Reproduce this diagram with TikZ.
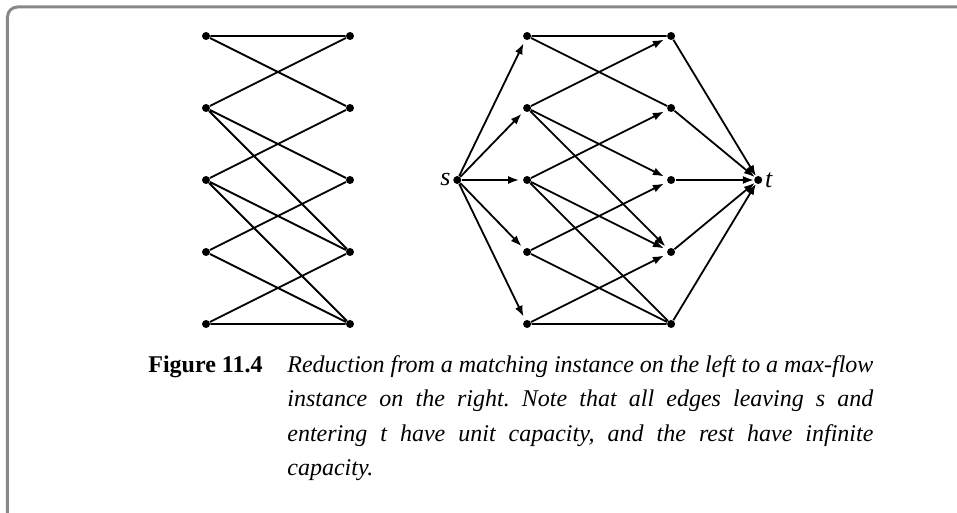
\documentclass[tikz,border=0pt]{standalone}
\usepackage{fontspec}
\setmainfont{Liberation Serif}
\usetikzlibrary{arrows.meta}
\definecolor{frameGray}{RGB}{136,136,136}
\frenchspacing

\begin{document}
\begin{tikzpicture}[>={Latex[length=5.5pt,width=4pt]},x=36pt,y=36pt,
  dot/.style={circle,fill,inner sep=0pt,minimum size=4pt},
  edge/.style={line width=0.9pt},
  arc/.style={->,line width=0.9pt,shorten >=1.8pt}]
\useasboundingbox (-2.861,-4.625) rectangle (10.431,2.5);
\draw[frameGray,line width=1.5pt,rounded corners=5pt] (-2.757,-4.7) -- (-2.757,2.403) -- (10.6,2.403);
% matching instance
\node[dot] (a1) at (0,2) {};
\node[dot] (a2) at (0,1) {};
\node[dot] (a3) at (0,0) {};
\node[dot] (a4) at (0,-1) {};
\node[dot] (a5) at (0,-2) {};
\node[dot] (b1) at (2,2) {};
\node[dot] (b2) at (2,1) {};
\node[dot] (b3) at (2,0) {};
\node[dot] (b4) at (2,-1) {};
\node[dot] (b5) at (2,-2) {};
\draw[edge] (a1) -- (b1) (a1) -- (b2) (a2) -- (b1) (a2) -- (b3) (a2) -- (b4) (a3) -- (b2);
\draw[edge] (a3) -- (b4) (a3) -- (b5) (a4) -- (b3) (a4) -- (b5) (a5) -- (b4) (a5) -- (b5);
% flow network
\node[dot] (s) at (3.49,0) {};
\node[left,inner sep=1pt,font=\fontsize{13}{15}\selectfont] (slabel) at (s.west) {\textit{s}};
\node[dot] (p1) at (4.46,2) {};
\node[dot] (p2) at (4.46,1) {};
\node[dot] (p3) at (4.46,0) {};
\node[dot] (p4) at (4.46,-1) {};
\node[dot] (p5) at (4.46,-2) {};
\node[dot] (q1) at (6.46,2) {};
\node[dot] (q2) at (6.46,1) {};
\node[dot] (q3) at (6.46,0) {};
\node[dot] (q4) at (6.46,-1) {};
\node[dot] (q5) at (6.46,-2) {};
\node[dot] (t) at (7.67,0) {};
\node[right,inner sep=1pt,font=\fontsize{13}{15}\selectfont] (tlabel) at (t.east) {\textit{t}};
\draw[arc] (s) -- (p1);
\draw[arc] (s) -- (p2);
\draw[arc] (s) -- (p3);
\draw[arc] (s) -- (p4);
\draw[arc] (s) -- (p5);
\draw[edge] (p1) -- (q1) (p1) -- (q2) (p3) -- (q5) (p4) -- (q5) (p5) -- (q5);
\draw[arc] (p2) -- (q1);
\draw[arc] (p2) -- (q3);
\draw[arc] (p2) -- (q4);
\draw[arc] (p3) -- (q2);
\draw[arc] (p3) -- (q4);
\draw[arc] (p4) -- (q3);
\draw[arc] (p5) -- (q4);
\draw[arc,shorten >=0pt] (q1) -- (t);
\draw[arc,shorten >=0pt] (q2) -- (t);
\draw[arc,shorten >=0pt] (q3) -- (t);
\draw[arc,shorten >=0pt] (q4) -- (t);
\draw[arc,shorten >=0pt] (q5) -- (t);
% caption
\node[anchor=base west,inner sep=0pt,font=\fontsize{12}{17.3}\selectfont\bfseries] (figno) at (-0.806,-2.667) {Figure 11.4};
\node[anchor=base west,inner sep=0pt,text width=293pt,align=justify,font=\fontsize{12}{17.3}\selectfont\itshape] (caption) at (1.125,-2.667)
  {Reduction from a matching instance on the left to a max-flow\linebreak
   instance on the right. Note that all edges leaving s and\linebreak
   entering t have unit capacity, and the rest have infinite\linebreak
   capacity.};
\end{tikzpicture}
\end{document}
